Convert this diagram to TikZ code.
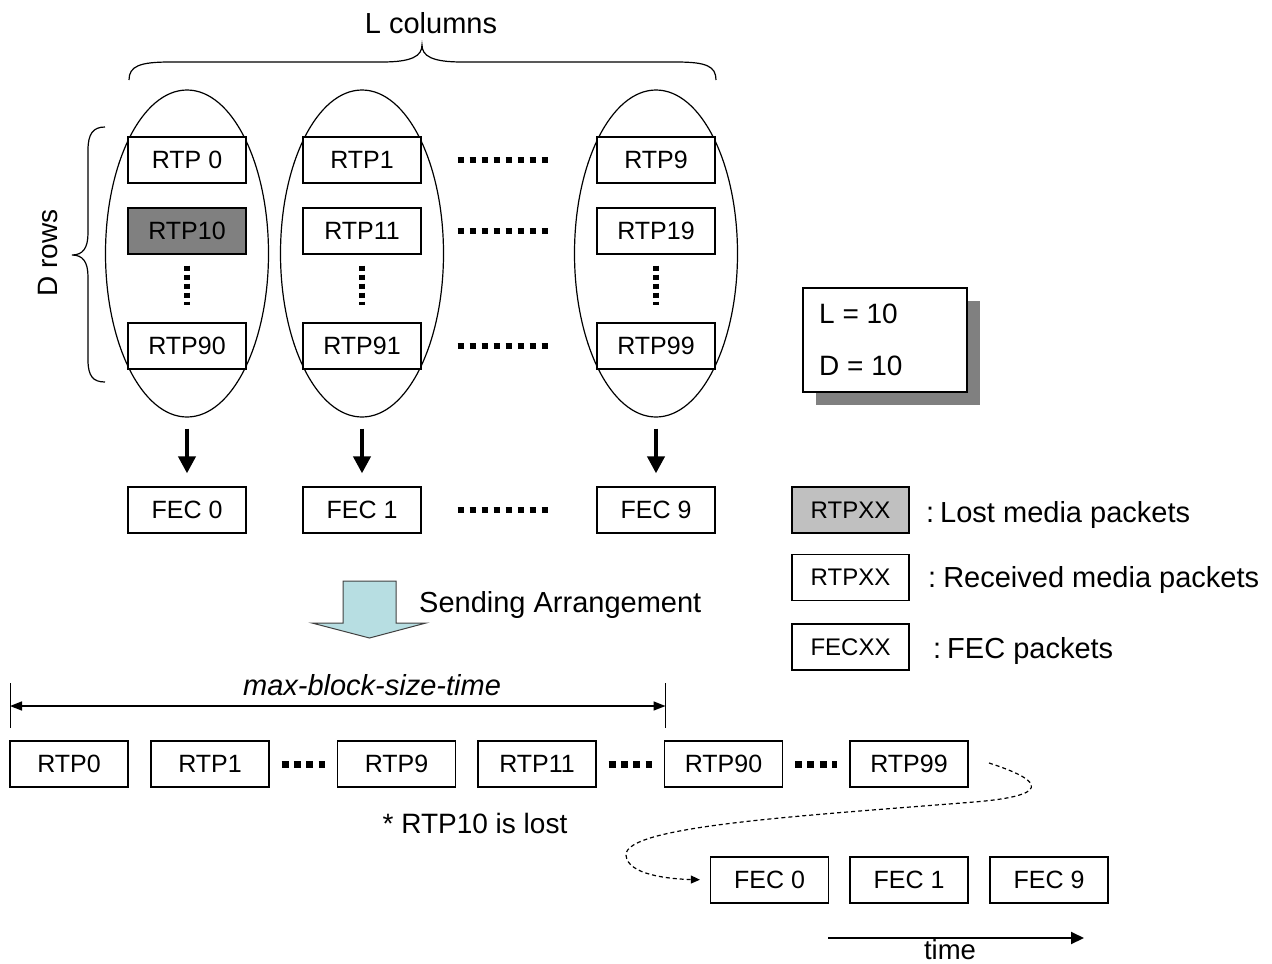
\documentclass[tikz,border=0pt]{standalone}
\usepackage{fontspec}
\setmainfont{Liberation Sans}
\usetikzlibrary{shapes.geometric,arrows.meta,shadows}
\definecolor{lostdark}{RGB}{128,128,128}
\definecolor{lostlight}{RGB}{192,192,192}
\definecolor{bigarrowfill}{RGB}{183,222,226}
\definecolor{shadowgray}{RGB}{128,128,128}
\definecolor{outlinegray}{RGB}{64,64,64}
\tikzset{
  pkt/.style={draw, line width=1.3pt, fill=white, minimum width=118pt, minimum height=46pt, inner sep=0pt, font=\fontsize{25}{29}\selectfont},
  lpkt/.style={draw, line width=1.3pt, minimum width=117pt, minimum height=46pt, inner sep=0pt, font=\fontsize{24}{28}\selectfont},
  oval/.style={ellipse, draw, line width=1.2pt, minimum width=163pt, minimum height=327pt, inner sep=0pt},
  downarr/.style={line width=4pt, -{Triangle[length=17pt,width=17pt]}},
  hdots/.style={line width=6pt, dash pattern=on 6pt off 6pt},
  vdots/.style={line width=6pt, dash pattern=on 5pt off 4pt},
  sdots/.style={line width=7pt, dash pattern=on 7pt off 5.33pt, shorten <=12pt, shorten >=12pt},
  lbl/.style={inner sep=0pt, font=\fontsize{29}{34}\selectfont},
  legtxt/.style={inner sep=0pt, anchor=base west, font=\fontsize{29}{34}\selectfont},
  bracepath/.style={line width=1.2pt},
}
\begin{document}
\begin{tikzpicture}[x=1pt,y=-1pt]
\useasboundingbox (0,0) rectangle (1272,964);

% ellipses (columns)
\node[oval] (e1) at (187,253.5) {};
\node[oval] (e2) at (362,253.5) {};
\node[oval] (e3) at (656,253.5) {};

% packets in the matrix
\node[pkt] (r0) at (187,160) {RTP 0};
\node[pkt] (r1) at (362,160) {RTP1};
\node[pkt] (r9) at (656,160) {RTP9};
\node[pkt, fill=lostdark] (r10) at (187,231) {RTP10};
\node[pkt] (r11) at (362,231) {RTP11};
\node[pkt] (r19) at (656,231) {RTP19};
\node[pkt] (r90) at (187,346) {RTP90};
\node[pkt] (r91) at (362,346) {RTP91};
\node[pkt] (r99) at (656,346) {RTP99};

% FEC packets
\node[pkt] (f0) at (187,510) {FEC 0};
\node[pkt] (f1) at (362,510) {FEC 1};
\node[pkt] (f9) at (656,510) {FEC 9};

% dots
\draw[hdots, shorten <=36pt, shorten >=47pt] (r1) -- (r9);
\draw[hdots, shorten <=36pt, shorten >=47pt] (r11) -- (r19);
\draw[hdots, shorten <=36pt, shorten >=47pt] (r91) -- (r99);
\draw[hdots, shorten <=36pt, shorten >=47pt] (f1) -- (f9);
\draw[vdots, shorten <=11pt, shorten >=17pt] (r10) -- (r90);
\draw[vdots, shorten <=11pt, shorten >=17pt] (r11) -- (r91);
\draw[vdots, shorten <=11pt, shorten >=17pt] (r19) -- (r99);

% arrows to FEC
\draw[downarr, shorten <=11pt, shorten >=13pt] (e1) -- (f0);
\draw[downarr, shorten <=11pt, shorten >=13pt] (e2) -- (f1);
\draw[downarr, shorten <=11pt, shorten >=13pt] (e3) -- (f9);

% braces
\draw[bracepath] (129,80) .. controls (129,66) and (140,62) .. (170,62) -- (382,62)
  .. controls (412,62) and (422,56) .. (422,45)
  .. controls (422,56) and (432,62) .. (462,62) -- (676,62)
  .. controls (706,62) and (716,66) .. (716,80);
\node[lbl] (lcol) at (431,23) {L columns};

\draw[bracepath] (105,127) .. controls (93,127) and (88,134) .. (88,150) -- (88,233)
  .. controls (88,248) and (83,255) .. (72,255)
  .. controls (83,255) and (88,262) .. (88,277) -- (88,360)
  .. controls (88,376) and (93,382) .. (105,382);
\node[lbl, rotate=90, font=\fontsize{28}{32}\selectfont] (drows) at (48,253) {D rows};

% parameter box
\node[draw, line width=1.3pt, fill=white, minimum width=164pt, minimum height=104pt,
  drop shadow={shadow xshift=13pt, shadow yshift=-13pt, fill=shadowgray, opacity=1}] (pbox) at (885,340) {};
\node[anchor=west, inner sep=0pt, font=\fontsize{28}{32}\selectfont] (lval) at (819,314) {L = 10};
\node[anchor=west, inner sep=0pt, font=\fontsize{28}{32}\selectfont] (dval) at (819,366) {D = 10};

% legend
\node[lpkt, fill=lostlight] (lg1) at (850.5,510) {RTPXX};
\node[lpkt] (lg2) at (850.5,577.5) {RTPXX};
\node[lpkt] (lg3) at (850.5,647) {FECXX};
\node[legtxt] (lt1) at (926,522) {:\kern6pt Lost media packets};
\node[legtxt] (lt2) at (928,587) {:\kern7pt Received media packets};
\node[legtxt] (lt3) at (933,658) {:\kern6pt FEC packets};

% sending arrangement arrow
\draw[fill=bigarrowfill, draw=outlinegray, line width=1pt]
  (343,581) -- (396,581) -- (396,623) -- (426,623) -- (369.5,638) -- (312,623) -- (343,623) -- cycle;
\node[lbl, anchor=west] (sa) at (419,605) {Sending Arrangement};

% max-block-size-time
\coordinate (mLt) at (10,683);
\coordinate (mLb) at (10,728);
\coordinate (mRt) at (665.5,683);
\coordinate (mRb) at (665.5,728);
\coordinate (mL) at (10,706);
\coordinate (mR) at (665.5,706);
\draw[line width=1pt] (mLt) -- (mLb);
\draw[line width=1pt] (mRt) -- (mRb);
\draw[line width=1.5pt, {Triangle[length=12pt,width=9pt]}-{Triangle[length=12pt,width=9pt]}] (mL) -- (mR);
\node[lbl, font=\fontsize{29}{34}\selectfont\itshape] (mbs) at (372,685) {max-block-size-time};

% sending sequence
\node[pkt] (b0) at (69,764) {RTP0};
\node[pkt] (b1) at (210,764) {RTP1};
\node[pkt] (b9) at (396.5,764) {RTP9};
\node[pkt] (b11) at (537,764) {RTP11};
\node[pkt] (b90) at (723.5,764) {RTP90};
\node[pkt] (b99) at (909,764) {RTP99};
\draw[sdots] (b1) -- (b9);
\draw[sdots] (b11) -- (b90);
\draw[sdots] (b90) -- (b99);
\node[lbl, font=\fontsize{28}{32}\selectfont] (lost) at (475,823) {* RTP10 is lost};

\node[pkt] (g0) at (769.5,880) {FEC 0};
\node[pkt] (g1) at (909,880) {FEC 1};
\node[pkt] (g9) at (1049,880) {FEC 9};

\coordinate (ds) at (989,763);
\draw[line width=1.2pt, dash pattern=on 4pt off 3pt, -{Triangle[length=9pt,width=8pt]}, shorten >=10pt]
  (ds) .. controls (1048,782) and (1048,796) .. (974,802)
  .. controls (800,816) and (625,826) .. (626,855)
  .. controls (627,875) and (670,879) .. (g0.west);

% time arrow
\coordinate (t0) at (828,938);
\coordinate (t1) at (1084,938);
\draw[line width=2pt, -{Triangle[length=13pt,width=12pt]}] (t0) -- (t1);
\node[lbl, font=\fontsize{27.5}{32}\selectfont] (time) at (950,950) {time};
\end{tikzpicture}
\end{document}
